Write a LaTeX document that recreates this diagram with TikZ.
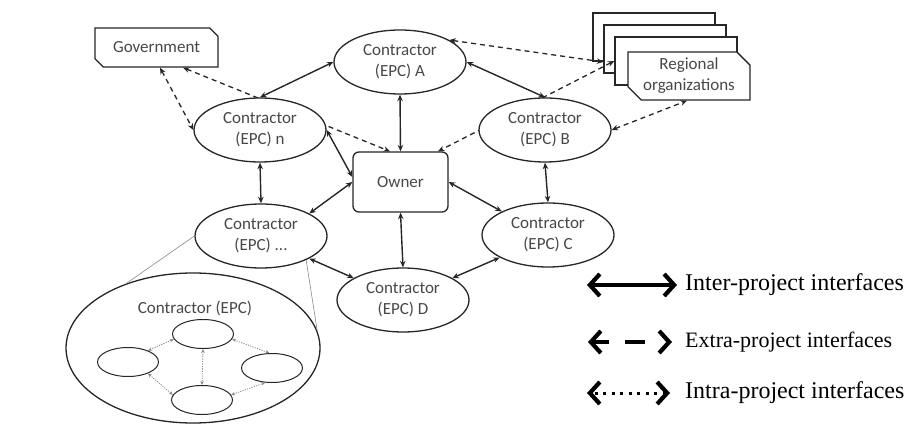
\documentclass[tikz,border=0pt]{standalone}
\usepackage{fontspec}
\setmainfont{Carlito}
\newfontfamily\legfont{Liberation Serif}
\usetikzlibrary{arrows.meta,shapes.geometric,shapes.misc,calc}
\definecolor{linec}{HTML}{262626}
\definecolor{textc}{HTML}{484848}
\definecolor{thinc}{HTML}{8A8A8A}
\tikzset{legtip/.tip={Straight Barb[length=10pt,width=22pt,line width=4.2pt]}}
\begin{document}
\begin{tikzpicture}[x=1pt,y=-1pt,
  every node/.style={text=textc, font=\fontsize{17}{21}\selectfont},
  epc/.style={ellipse, draw=linec, line width=1.3pt, fill=white, minimum width=132pt, minimum height=64pt, inner sep=0pt, align=center},
  ownerbox/.style={rectangle, rounded corners=6pt, draw=linec, line width=1.3pt, fill=white, minimum width=95pt, minimum height=60pt},
  chbox/.style={chamfered rectangle, chamfered rectangle corners={north east,south west}, draw=linec, line width=1.3pt, fill=white, inner sep=0pt, align=center},
  regbox/.style={chbox, minimum width=122pt, minimum height=48pt, chamfered rectangle xsep=10pt},
  inter/.style={draw=linec, line width=1.4pt, {Stealth[length=6.5pt,width=5.5pt]}-{Stealth[length=6.5pt,width=5.5pt]}},
  extra/.style={draw=linec, line width=1.3pt, dash pattern=on 5pt off 4pt, {Stealth[length=6.5pt,width=5.5pt]}-{Stealth[length=6.5pt,width=5.5pt]}},
  intra/.style={draw=thinc, line width=0.8pt, dash pattern=on 1.2pt off 1.2pt, {Stealth[length=4pt,width=3.5pt]}-{Stealth[length=4pt,width=3.5pt]}},
  subell/.style={ellipse, draw=linec, line width=1pt, fill=white, minimum width=61pt, minimum height=29pt, inner sep=0pt},
  legtext/.style={anchor=west, text=black, inner sep=0pt}
]
\useasboundingbox (0,0) rectangle (918,430);

% regional organisations stack
\node[regbox] (r1) at (654,37) {};
\node[regbox] (r2) at (665,49) {};
\node[regbox] (r3) at (676,61) {};
\node[regbox] (r4) at (689,76) {Regional\\organizations};

% government
\node[chbox, minimum width=123pt, minimum height=39pt, chamfered rectangle xsep=5pt] (gov) at (156.5,47.5) {Government};

% owner
\node[ownerbox] (owner) at (400.5,182) {Owner};

% dashed lines passing behind ellipses
\draw[extra] ([xshift=26.5pt]gov.south) -- ([xshift=-10.5pt]owner.north);
\draw[extra] (r3.west) -- ([xshift=37.5pt]owner.north);

% contractors
\node[epc] (A) at (400,62) {Contractor\\(EPC) A};
\node[epc] (n) at (260,130) {Contractor\\(EPC) n};
\node[epc] (B) at (545,130) {Contractor\\(EPC) B};
\node[epc] (dots) at (261,236) {Contractor\\(EPC) ...};
\node[epc] (C) at (548,235) {Contractor\\(EPC) C};
\node[epc] (D) at (403,300) {Contractor\\(EPC) D};

% inter-project
\draw[inter] (n.north) -- (A.west);
\draw[inter] (A.south) -- (owner.north);
\draw[inter] (A.east) -- (B.north);
\draw[inter] (n.east) -- ([yshift=5pt]owner.west);
\draw[inter] (n.south) -- (dots.north);
\draw[inter] (B.south) -- (C.north);
\draw[inter] (dots.25) -- (owner.west);
\draw[inter] (owner.east) -- (C.153);
\draw[inter] (owner.south) -- (D.north);
\draw[inter] (dots.-25) -- (D.156);
\draw[inter] (D.24) -- (C.205);

% extra-project
\draw[extra] ([xshift=3.5pt]gov.south) -- (n.west);
\draw[extra] (A.24) -- ([yshift=-13pt]r2.west);
\draw[extra] (B.east) -- ([xshift=-2pt]r4.south);

% zoom-in on one contractor
\node[ellipse, draw=linec, line width=1.3pt, minimum width=254pt, minimum height=150pt] (big) at (193,348) {};
\draw[thinc, line width=0.6pt] (dots.west) -- (big.136);
\draw[thinc, line width=0.6pt] (dots.-28) -- (big.8);
\node (biglabel) at (195,308) {Contractor (EPC)};
\node[subell] (s1) at (203,334) {};
\node[subell] (s2) at (128,362) {};
\node[subell] (s3) at (272,368) {};
\node[subell] (s4) at (202,400) {};
\draw[intra] (s2.30) -- (s1.190);
\draw[intra] (s1.-10) -- (s3.100);
\draw[intra] (s1.south) -- (s4.north);
\draw[intra] (s2.-30) -- (s4.170);
\draw[intra] (s4.10) -- (s3.-115);

% legend
\coordinate (l1a) at (587,285); \coordinate (l1b) at (677,285);
\coordinate (l2a) at (588,342); \coordinate (l2b) at (672,342);
\coordinate (l3a) at (587,393); \coordinate (l3b) at (670,393);
\draw[black, line width=3.2pt, {legtip}-{legtip}] (l1a) -- (l1b);
\draw[black, line width=3.8pt, dash pattern=on 16pt off 16pt on 20pt off 30pt, {legtip}-{legtip}] (l2a) -- (l2b);
\draw[black, line width=3pt, dash pattern=on 3pt off 5.5pt, dash phase=-3pt, {legtip}-{legtip}] (l3a) -- (l3b);
\node[legtext, font=\legfont\fontsize{24}{28}\selectfont] (t1) at (685,285) {Inter-project interfaces};
\node[legtext, font=\legfont\fontsize{22}{26}\selectfont] (t2) at (685,342) {Extra-project interfaces};
\node[legtext, font=\legfont\fontsize{24}{28}\selectfont] (t3) at (685,393) {Intra-project interfaces};
\end{tikzpicture}
\end{document}
